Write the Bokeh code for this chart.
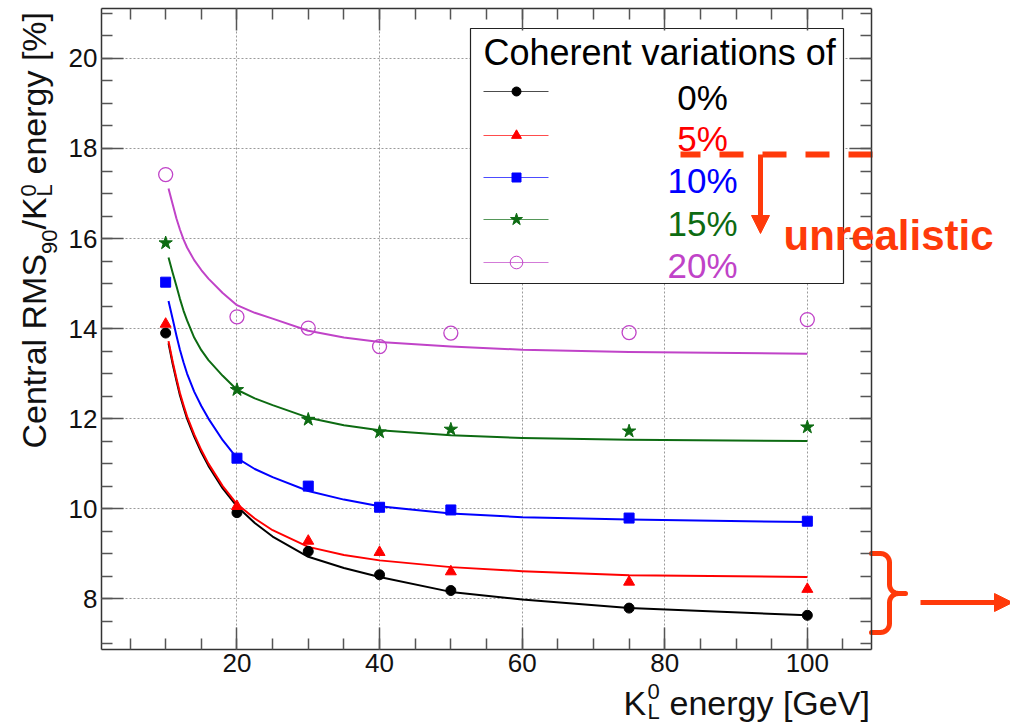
import math
from bokeh.plotting import figure
from bokeh.models import (Range1d, LinearAxis, SingleIntervalTicker, Label, Arrow,
                          NormalHead, Grid, CustomJSTickFormatter)
from bokeh.embed import file_html
from bokeh.resources import INLINE

# ---------------- data ----------------
energies = [10, 20, 30, 40, 50, 75, 100]
rms_0 = [13.9, 9.91, 9.05, 8.53, 8.18, 7.79, 7.63]
rms_5 = [14.1, 10.05, 9.28, 9.03, 8.60, 8.37, 8.21]
rms_10 = [15.03, 11.12, 10.50, 10.03, 9.97, 9.79, 9.72]
rms_15 = [15.9, 12.64, 11.98, 11.70, 11.76, 11.72, 11.81]
rms_20 = [17.42, 14.26, 14.01, 13.60, 13.90, 13.91, 14.20]

fit_x = [10.4, 11, 11.5, 12, 12.5, 13, 14, 15, 16, 18, 20, 22.5, 25, 30, 35, 40, 50, 60, 75, 100]
fit_0 = [13.67, 13.2, 12.85, 12.52, 12.25, 12.0, 11.6, 11.25, 10.95, 10.45, 10.05,
         9.68, 9.38, 8.93, 8.68, 8.48, 8.15, 7.98, 7.79, 7.63]
fit_5 = [13.72, 13.25, 12.9, 12.57, 12.3, 12.05, 11.65, 11.3, 11.0, 10.5, 10.1,
         9.78, 9.52, 9.15, 8.97, 8.85, 8.70, 8.61, 8.52, 8.48]
fit_10 = [14.61, 14.2, 13.85, 13.53, 13.25, 13.0, 12.6, 12.28, 12.0, 11.52, 11.12,
          10.88, 10.7, 10.39, 10.2, 10.05, 9.89, 9.81, 9.76, 9.70]
fit_15 = [15.58, 15.23, 14.95, 14.66, 14.4, 14.18, 13.8, 13.52, 13.3, 12.95, 12.64,
          12.45, 12.3, 12.02, 11.85, 11.74, 11.63, 11.57, 11.53, 11.50]
fit_20 = [17.11, 16.75, 16.45, 16.2, 15.98, 15.8, 15.52, 15.3, 15.11, 14.79, 14.52,
          14.35, 14.22, 13.95, 13.8, 13.7, 13.6, 13.53, 13.48, 13.44]

legend_labels = ["0%", "5%", "10%", "15%", "20%"]
legend_title = "Coherent variations of"
annotation_text = "unrealistic"
x_ticks_interval = 20
y_ticks_interval = 2

# ---------------- layout ----------------
XMIN, XMAX = 1.0, 109.0
YMIN, YMAX = 6.87, 21.11
FL, FR, FT, FB = 101, 871, 8, 649          # ROOT frame in window pixels
W, H = 1010, 725
FONT = "Liberation Sans"
DESC = 0.212                                # font descent (em) for baseline placement
RED = "#ff3a0a"
GREEN = "#0d6b12"
PURPLE = "#c043c8"
AXC = "#333333"


def dx(px):
    return XMIN + (px - FL) * (XMAX - XMIN) / (FR - FL)


def dy(py):
    return YMIN + (FB - py) * (YMAX - YMIN) / (FB - FT)


p = figure(width=W, height=H, output_backend="svg", toolbar_location=None, title=None,
           x_range=Range1d(dx(0), dx(W)), y_range=Range1d(dy(H), dy(0)),
           x_axis_type=None, y_axis_type=None,
           min_border_left=0, min_border_right=0, min_border_top=0, min_border_bottom=0)
p.background_fill_color = "white"
p.border_fill_color = "white"
p.outline_line_color = None
p.xgrid.visible = False
p.ygrid.visible = False

xt = SingleIntervalTicker(interval=x_ticks_interval, num_minor_ticks=4)
yt = SingleIntervalTicker(interval=y_ticks_interval, num_minor_ticks=4)


def make_axis(ticker, loc, bounds, show_labels):
    ax = LinearAxis(ticker=ticker, fixed_location=loc, bounds=bounds)
    ax.axis_line_color = AXC
    ax.axis_line_width = 1.5
    ax.major_tick_in = 22
    ax.major_tick_out = 0
    ax.minor_tick_in = 11
    ax.minor_tick_out = 0
    ax.major_tick_line_color = "#555555"
    ax.minor_tick_line_color = "#555555"
    ax.major_tick_line_width = 1.5
    ax.minor_tick_line_width = 1.5
    if show_labels:
        ax.major_label_text_font = FONT
        ax.major_label_text_font_size = "26px"
        ax.major_label_text_color = "#111111"
        ax.major_label_standoff = 4
    else:
        ax.formatter = CustomJSTickFormatter(code="return ''")
        ax.major_label_standoff = 0
    return ax


p.add_layout(make_axis(xt, YMIN, (XMIN, XMAX), True), "below")
p.add_layout(make_axis(yt, XMIN, (YMIN, YMAX), True), "left")
p.add_layout(make_axis(xt, YMAX, (XMIN, XMAX), False), "above")
p.add_layout(make_axis(yt, XMAX, (YMIN, YMAX), False), "right")

has_cross = "cross_bounds" in Grid.properties()
for dim, tk, b, cb in ((0, xt, (XMIN, XMAX), (YMIN, YMAX)), (1, yt, (YMIN, YMAX), (XMIN, XMAX))):
    g = Grid(dimension=dim, ticker=tk, bounds=b, grid_line_color="#9a9a9a",
             grid_line_dash="2 2", grid_line_width=1)
    if has_cross:
        g.cross_bounds = cb
    p.add_layout(g)

# ---------------- fits and points ----------------
series = [
    (fit_0, rms_0, "#000000", "circle", 10, True),
    (fit_5, rms_5, "#ff0000", "triangle", 11, True),
    (fit_10, rms_10, "#0000ff", "square", 10, True),
    (fit_15, rms_15, GREEN, "star", 14, True),
    (fit_20, rms_20, PURPLE, "circle", 14, False),
]
for fit, pts, col, mk, sz, filled in series:
    p.line(fit_x, fit, line_color=col, line_width=2, line_join="round")
for fit, pts, col, mk, sz, filled in series:
    p.scatter(energies, pts, marker=mk, size=sz, line_color=col,
              fill_color=col if filled else None, line_width=1.3 if not filled else 1)


def text_at(px, base_py, txt, size, color="#111111", align="left", style="normal"):
    """Horizontal text whose baseline sits at window pixel row base_py."""
    p.add_layout(Label(x=dx(px), y=dy(base_py + DESC * size), text=txt, text_font=FONT,
                       text_font_size=f"{size}px", text_color=color, text_align=align,
                       text_baseline="bottom", text_font_style=style))


def rtext_at(base_px, py, txt, size, color="#111111"):
    """Text rotated 90 deg whose baseline sits at window pixel column base_px, starting at row py."""
    p.add_layout(Label(x=dx(base_px + DESC * size), y=dy(py), text=txt, text_font=FONT,
                       text_font_size=f"{size}px", text_color=color, angle=math.pi / 2,
                       text_align="left", text_baseline="bottom"))


# ---------------- legend ----------------
p.quad(left=[dx(470)], right=[dx(843)], top=[dy(28)], bottom=[dy(283)],
       fill_color="white", line_color="#222222", line_width=1.2)
text_at(483, 65, legend_title, 36, color="black")
leg_text_y = [109, 150, 192, 235, 277]
leg_mark_y = [91, 135, 177, 219, 262]
for (fit, pts, col, mk, sz, filled), lab, ty, my in zip(series, legend_labels, leg_text_y, leg_mark_y):
    p.line([dx(483), dx(548)], [dy(my), dy(my)], line_color=col, line_width=1, line_alpha=0.7)
    p.scatter([dx(516)], [dy(my)], marker=mk, size=sz * 0.9, line_color=col,
              fill_color=col if filled else None)
    text_at(702, ty, lab, 35, color=col, align="center")

# ---------------- axis titles (ROOT-style with sub/superscripts) ----------------
rtext_at(45, 448, "Central RMS", 34)
rtext_at(52, 253.4, "90", 22)
rtext_at(45, 228.9, "/K", 34)
rtext_at(31, 196.0, "0", 22)
rtext_at(52, 196.0, "L", 22)
rtext_at(45, 174.0, "energy [%]", 34)

text_at(623, 714, "K", 34)
text_at(647, 694, "0", 22)
text_at(647, 719, "L", 22)
text_at(669, 714, "energy [GeV]", 34)

# ---------------- red annotations ----------------
p.line([dx(872), dx(680)], [dy(154), dy(154)], line_color=RED, line_width=6, line_dash="24 19")
p.add_layout(Arrow(x_start=dx(760), y_start=dy(154), x_end=dx(760), y_end=dy(233),
                   end=NormalHead(size=18, fill_color=RED, line_color=RED),
                   line_color=RED, line_width=5))
text_at(783, 250, annotation_text, 42, color=RED, style="bold")


def arc(cx, cy, r, a0, a1, n=8):
    return [(cx + r * math.cos(math.radians(a0 + (a1 - a0) * i / n)),
             cy - r * math.sin(math.radians(a0 + (a1 - a0) * i / n))) for i in range(1, n + 1)]


brace = [(871, 553), (880, 553)]
brace += arc(880, 562, 9, 90, 0)
brace += [(889, 584)]
brace += arc(898, 584, 9, 180, 270)
brace += [(905, 593), (898, 593)]
brace += arc(898, 602, 9, 90, 180)
brace += [(889, 623)]
brace += arc(880, 623, 9, 0, -90)
brace += [(871, 632)]
p.line([dx(a) for a, b in brace], [dy(b) for a, b in brace], line_color=RED, line_width=5,
       line_join="round", line_cap="round")

p.add_layout(Arrow(x_start=dx(920), y_start=dy(602), x_end=dx(1012), y_end=dy(602),
                   end=NormalHead(size=18, fill_color=RED, line_color=RED),
                   line_color=RED, line_width=5))

open("out.html", "w").write(file_html(p, INLINE))
